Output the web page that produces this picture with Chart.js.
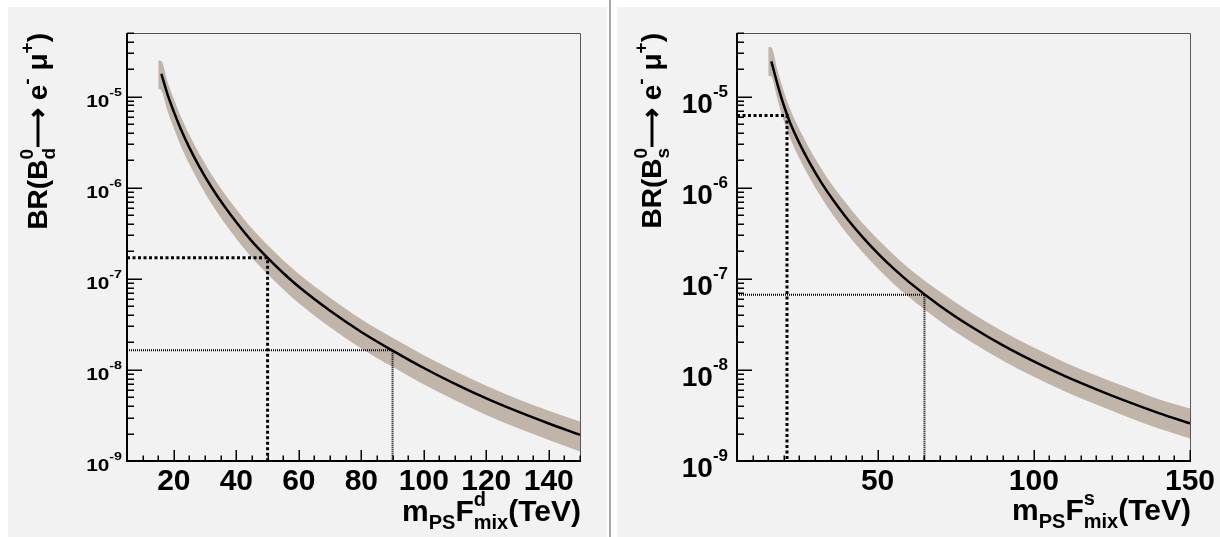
<!DOCTYPE html>
<html>
<head>
<meta charset="utf-8">
<script src="https://cdn.jsdelivr.net/npm/chart.js@4.4.1/dist/chart.umd.min.js"></script>
<style>
  html, body { margin: 0; padding: 0; background: #fff; width: 1220px; height: 537px; overflow: hidden; }
  .pad { position: absolute; top: 7px; height: 530px; background: #f2f2f2; }
  #padL { left: 8px; width: 599px; }
  #padR { left: 617px; width: 603px; }
  #sep { position: absolute; left: 609px; top: 0; width: 2px; height: 537px; background: #a8a8a8; }
  canvas { display: block; }
</style>
</head>
<body>
<div class="pad" id="padL"><canvas id="chartD" width="599" height="530"></canvas></div>
<div id="sep"></div>
<div class="pad" id="padR"><canvas id="chartS" width="603" height="530"></canvas></div>
<script>
const FONT = '"Liberation Sans", Arial, Helvetica, sans-serif';
const BAND = "#c1b5a9";

// axis ranges and tick labels
const xRange = [5, 150];
const yRange = [1e-9, 5e-5];
const yDecades = [-9, -8, -7, -6, -5];
const xLabelsD = [20, 40, 60, 80, 100, 120, 140];
const xLabelsS = [50, 100, 150];

// central curve, m_PS F_mix in TeV
const massX = [16, 18, 20, 22, 25, 28, 32, 36, 40, 45, 50, 55, 60, 70, 80, 90, 100, 110, 120, 130, 140, 150];
const brD = [1.78e-5, 1.05e-5, 6.8e-6, 4.6e-6, 2.74e-6, 1.74e-6, 1.02e-6, 6.37e-7, 4.18e-7, 2.58e-7, 1.70e-7,
  1.16e-7, 8.18e-8, 4.46e-8, 2.61e-8, 1.63e-8, 1.05e-8, 7.03e-9, 4.87e-9, 3.50e-9, 2.58e-9, 1.94e-9];
const brS = [2.44e-5, 1.35e-5, 8.0e-6, 5.17e-6, 3.07e-6, 1.95e-6, 1.14e-6, 7.14e-7, 4.69e-7, 2.93e-7, 1.92e-7,
  1.31e-7, 9.26e-8, 5.04e-8, 2.98e-8, 1.87e-8, 1.24e-8, 8.54e-9, 6.12e-9, 4.48e-9, 3.36e-9, 2.59e-9];

// uncertainty band
const bandX = [15, 16, 18, 20, 22, 25, 28, 32, 36, 40, 45, 50, 55, 60, 70, 80, 90, 100, 110, 120, 130, 140, 150];
const bandDUp = [2.5e-5, 2.46e-5, 1.45e-5, 9.4e-6, 6.3e-6, 3.8e-6, 2.4e-6, 1.41e-6, 8.8e-7, 5.8e-7, 3.56e-7, 2.35e-7,
  1.60e-7, 1.13e-7, 6.2e-8, 3.6e-8, 2.25e-8, 1.45e-8, 9.7e-9, 6.7e-9, 4.8e-9, 3.56e-9, 2.72e-9];
const bandDLow = [1.22e-5, 1.17e-5, 6.9e-6, 4.5e-6, 3.0e-6, 1.8e-6, 1.15e-6, 6.7e-7, 4.2e-7, 2.76e-7, 1.70e-7, 1.12e-7,
  7.7e-8, 5.4e-8, 2.94e-8, 1.72e-8, 1.08e-8, 6.9e-9, 4.64e-9, 3.2e-9, 2.3e-9, 1.7e-9, 1.27e-9];
const bandSUp = [3.5e-5, 3.46e-5, 1.92e-5, 1.14e-5, 7.3e-6, 4.36e-6, 2.77e-6, 1.62e-6, 1.01e-6, 6.7e-7, 4.16e-7, 2.73e-7,
  1.86e-7, 1.31e-7, 7.2e-8, 4.23e-8, 2.66e-8, 1.76e-8, 1.21e-8, 8.7e-9, 6.4e-9, 4.77e-9, 3.77e-9];
const bandSLow = [1.7e-5, 1.66e-5, 9.2e-6, 5.4e-6, 3.5e-6, 2.09e-6, 1.33e-6, 7.8e-7, 4.86e-7, 3.19e-7, 1.99e-7, 1.31e-7,
  8.9e-8, 6.3e-8, 3.43e-8, 2.03e-8, 1.27e-8, 8.4e-9, 5.8e-9, 4.16e-9, 3.05e-9, 2.28e-9, 1.77e-9];

// [mass, BR] of the drop lines
const dashD = [50, 1.7e-7];
const dotD = [90, 1.64e-8];
const dashS = [21, 6.2e-6];
const dotS = [65, 6.7e-8];

function richWidth(ctx, parts, size, small) {
  let w = 0;
  for (const p of parts) {
    if (p.t) {
      ctx.font = `bold ${size}px ${FONT}`;
      w += ctx.measureText(p.t).width;
    } else {
      ctx.font = `bold ${small}px ${FONT}`;
      w += Math.max(p.sup ? ctx.measureText(p.sup).width : 0, p.sub ? ctx.measureText(p.sub).width : 0);
    }
  }
  return w;
}

// draws text with super/subscripts, x = left start, y = baseline
function drawRich(ctx, parts, x, y, s) {
  let cx = 0;
  ctx.save();
  ctx.translate(x, y);
  ctx.scale(s.sx || 1, 1);
  ctx.fillStyle = "#000";
  ctx.textAlign = "left";
  ctx.textBaseline = "alphabetic";
  for (const p of parts) {
    if (p.t) {
      ctx.font = `bold ${s.size}px ${FONT}`;
      ctx.fillText(p.t, cx, 0);
      cx += ctx.measureText(p.t).width;
    } else {
      ctx.font = `bold ${s.small}px ${FONT}`;
      let w = 0;
      if (p.sup) { ctx.fillText(p.sup, cx, s.supDy); w = ctx.measureText(p.sup).width; }
      if (p.sub) { ctx.fillText(p.sub, cx, s.subDy); w = Math.max(w, ctx.measureText(p.sub).width); }
      cx += w;
    }
  }
  ctx.restore();
}

const rootAxes = {
  id: "rootAxes",
  afterDraw(chart, args, o) {
    const { ctx, chartArea: a, scales: { x, y } } = chart;
    ctx.save();
    // frame
    ctx.strokeStyle = "#555";
    ctx.lineWidth = 1;
    ctx.beginPath();
    ctx.moveTo(a.left, a.top + 0.5);
    ctx.lineTo(a.right + 0.5, a.top + 0.5);
    ctx.lineTo(a.right + 0.5, a.bottom);
    ctx.stroke();

    // ticks
    ctx.strokeStyle = "#000";
    ctx.lineWidth = 1.5;
    ctx.beginPath();
    for (const d of o.decades) {
      for (let m = 1; m < 10; m++) {
        const v = m * Math.pow(10, d);
        if (v > y.max * 1.001) break;
        const py = Math.round(y.getPixelForValue(v)) + 0.25;
        ctx.moveTo(a.left, py);
        ctx.lineTo(a.left + (m === 1 ? 15 : 7), py);
      }
    }
    for (let v = x.min + 5; v <= x.max; v += 5) {
      const px = Math.round(x.getPixelForValue(v)) + 0.25;
      ctx.moveTo(px, a.bottom);
      ctx.lineTo(px, a.bottom - (v % o.xMajor === 0 ? 11 : 5.5));
    }
    ctx.stroke();

    // axes
    ctx.lineWidth = 2;
    ctx.beginPath();
    ctx.moveTo(a.left, a.top);
    ctx.lineTo(a.left, a.bottom);
    ctx.lineTo(a.right + 1, a.bottom);
    ctx.stroke();

    // y tick labels
    const ys = o.yLabel;
    for (const d of o.decades) {
      const parts = [{ t: "10" }, { sup: String(d) }];
      const w = richWidth(ctx, parts, ys.size, ys.small) * (ys.sx || 1);
      const py = y.getPixelForValue(Math.pow(10, d));
      drawRich(ctx, parts, a.left - ys.gap - w, py + ys.dy, ys);
    }

    // x tick labels
    ctx.font = `bold ${o.xLabel.size}px ${FONT}`;
    ctx.fillStyle = "#000";
    ctx.textAlign = "center";
    ctx.textBaseline = "alphabetic";
    for (const v of o.xLabels) {
      ctx.fillText(String(v), x.getPixelForValue(v), a.bottom + o.xLabel.dy);
    }

    // x title, right aligned to the frame
    const xt = o.xTitle;
    const xw = richWidth(ctx, xt.parts, xt.size, xt.small);
    drawRich(ctx, xt.parts, a.right + 1 - xw, xt.y, xt);

    // y title, rotated, ends at the frame top
    const yt = o.yTitle;
    const yw = richWidth(ctx, yt.parts, yt.size, yt.small);
    ctx.save();
    ctx.translate(yt.x, a.top + yw);
    ctx.rotate(-Math.PI / 2);
    drawRich(ctx, yt.parts, 0, 0, yt);
    ctx.restore();

    ctx.restore();
  }
};

function pts(xs, ys) {
  return xs.map((v, i) => ({ x: v, y: ys[i] }));
}

function makeChart(id, mid, up, low, dash, dot, opts) {
  const line = { pointRadius: 0, fill: false, borderColor: "#000" };
  return new Chart(document.getElementById(id), {
    type: "line",
    data: {
      datasets: [
        { ...line, data: pts(massX, mid), borderWidth: 2.5, cubicInterpolationMode: "monotone" },
        { ...line, data: [{ x: xRange[0], y: dash[1] }, { x: dash[0], y: dash[1] }, { x: dash[0], y: yRange[0] }],
          borderWidth: 3, borderDash: [3, 2.5] },
        { ...line, data: [{ x: xRange[0], y: dot[1] }, { x: dot[0], y: dot[1] }, { x: dot[0], y: yRange[0] }],
          borderWidth: 2, borderDash: [1, 1] },
        { data: pts(bandX, up), borderColor: "rgba(0,0,0,0)", backgroundColor: BAND, fill: "+1",
          pointRadius: 0, cubicInterpolationMode: "monotone" },
        { data: pts(bandX, low), borderColor: "rgba(0,0,0,0)", fill: false,
          pointRadius: 0, cubicInterpolationMode: "monotone" },
      ],
    },
    options: {
      responsive: false,
      animation: false,
      devicePixelRatio: 1,
      events: [],
      layout: { padding: opts.padding },
      scales: {
        x: { type: "linear", min: xRange[0], max: xRange[1], display: false },
        y: { type: "logarithmic", min: yRange[0], max: yRange[1], display: false },
      },
      plugins: {
        legend: { display: false },
        tooltip: { enabled: false },
        rootAxes: opts.axes,
      },
    },
    plugins: [rootAxes],
  });
}

const xTitleParts = (q) => [{ t: "m" }, { sub: "PS" }, { t: "F" }, { sup: q, sub: "mix" }, { t: "(TeV)" }];
const yTitleParts = (q) => [{ t: "BR(B" }, { sup: "0", sub: q }, { t: "\u27f6 e" }, { sup: "-" }, { t: " \u03bc" }, { sup: "+" }, { t: ")" }];

makeChart("chartD", brD, bandDUp, bandDLow, dashD, dotD, {
  padding: { left: 119, right: 27, top: 26, bottom: 76 },
  axes: {
    decades: yDecades,
    xLabels: xLabelsD,
    xMajor: 20,
    yLabel: { size: 16, small: 11, supDy: -11, subDy: 0, dy: 10, gap: 5, sx: 1.3 },
    xLabel: { size: 30, dy: 29 },
    xTitle: { parts: xTitleParts("d"), size: 30, small: 20, supDy: -15, subDy: 8, y: 514 },
    yTitle: { parts: yTitleParts("d"), size: 28, small: 19, supDy: -14, subDy: 8, x: 39 },
  },
});

makeChart("chartS", brS, bandSUp, bandSLow, dashS, dotS, {
  padding: { left: 120, right: 30, top: 26, bottom: 76 },
  axes: {
    decades: yDecades,
    xLabels: xLabelsS,
    xMajor: 50,
    yLabel: { size: 28, small: 17, supDy: -16, subDy: 0, dy: 16, gap: 9 },
    xLabel: { size: 30, dy: 29 },
    xTitle: { parts: xTitleParts("s"), size: 30, small: 20, supDy: -15, subDy: 8, y: 513 },
    yTitle: { parts: yTitleParts("s"), size: 28, small: 19, supDy: -14, subDy: 8, x: 44 },
  },
});
</script>
</body>
</html>
